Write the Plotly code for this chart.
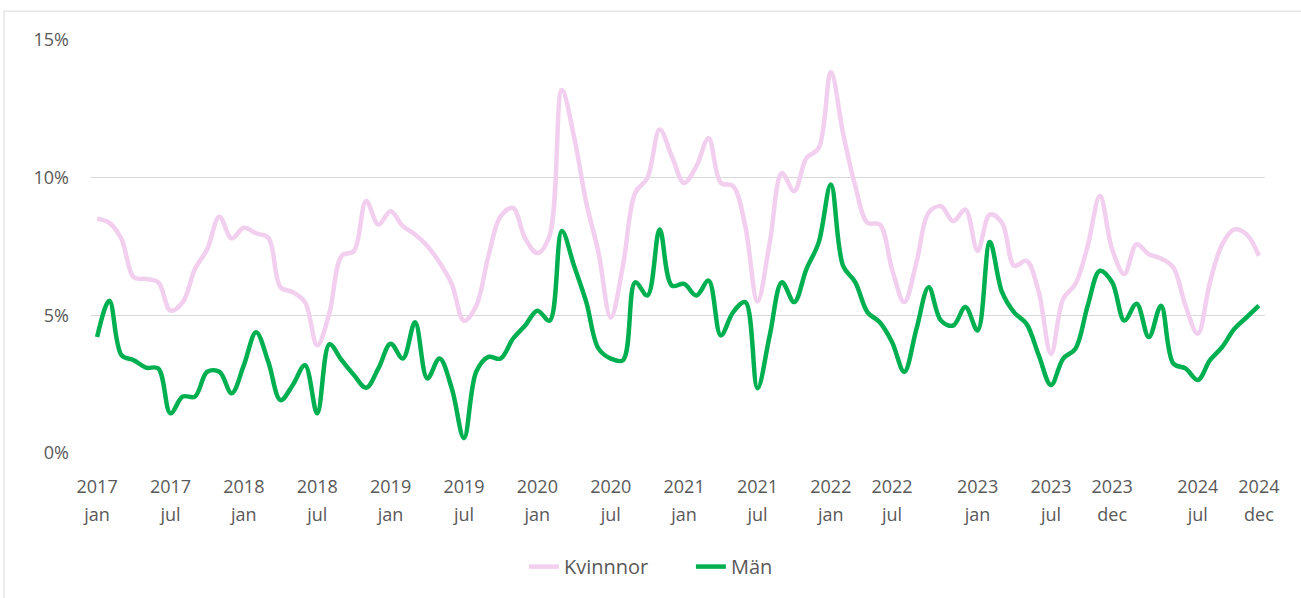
import plotly.graph_objects as go

months = list(range(96))  # 2017 jan .. 2024 dec

kvinnor = [8.51, 8.36, 7.76, 6.38, 6.32, 6.2, 5.17, 5.48, 6.68, 7.4, 8.58, 7.79,
           8.18, 7.98, 7.82, 6.02, 5.84, 5.48, 3.91, 5.1, 7.16, 7.34, 9.15, 8.3,
           8.78, 8.24, 7.94, 7.52, 6.92, 6.14, 4.8, 5.35, 7.16, 8.6, 8.9, 7.8,
           7.26, 7.9, 13.18, 11.49, 9.09, 7.28, 4.92, 6.8, 9.45, 9.99, 11.75, 10.77,
           9.81, 10.41, 11.43, 9.81, 9.69, 8.24, 5.5, 7.64, 10.17, 9.51, 10.71, 11.07,
           13.84, 11.61, 9.69, 8.36, 8.3, 6.68, 5.48, 6.92, 8.73, 8.96, 8.42, 8.84,
           7.34, 8.66, 8.36, 6.8, 6.98, 5.84, 3.6, 5.6, 6.14, 7.52, 9.33, 7.4,
           6.5, 7.58, 7.22, 7.06, 6.74, 5.35, 4.33, 6.2, 7.58, 8.12, 7.94, 7.16]

man = [4.21, 5.53, 3.55, 3.37, 3.1, 3.07, 1.44, 2.05, 2.05, 2.95, 2.95, 2.17,
       3.19, 4.39, 3.31, 1.92, 2.47, 3.19, 1.44, 3.95, 3.37, 2.83, 2.37, 3.07,
       3.97, 3.43, 4.75, 2.71, 3.43, 2.35, 0.54, 2.95, 3.49, 3.43, 4.15, 4.63,
       5.17, 4.81, 8.06, 6.8, 5.48, 3.79, 3.43, 3.37, 6.2, 5.72, 8.12, 6.08,
       6.14, 5.72, 6.26, 4.27, 5.11, 5.48, 2.35, 4.27, 6.2, 5.48, 6.68, 7.64,
       9.75, 6.8, 6.2, 5.11, 4.75, 4.03, 2.95, 4.51, 6.02, 4.81, 4.63, 5.3,
       4.45, 7.66, 5.84, 5.1, 4.69, 3.55, 2.47, 3.43, 3.79, 5.35, 6.62, 6.2,
       4.81, 5.42, 4.21, 5.35, 3.25, 3.07, 2.65, 3.37, 3.85, 4.51, 4.93, 5.35]

tick_pos = [0, 6, 12, 18, 24, 30, 36, 42, 48, 54, 60, 65, 72, 78, 83, 90, 95]
tick_years = ["2017", "2017", "2018", "2018", "2019", "2019", "2020", "2020",
              "2021", "2021", "2022", "2022", "2023", "2023", "2023", "2024", "2024"]
tick_months = ["jan", "jul", "jan", "jul", "jan", "jul", "jan", "jul",
               "jan", "jul", "jan", "jul", "jan", "jul", "dec", "jul", "dec"]

y_ticks = [0, 5, 10, 15]
y_text = ["0%", "5%", "10%", "15%"]

font = "Open Sans, Noto Sans, sans-serif"
txt_color = "#595959"

fig = go.Figure()
fig.add_trace(go.Scatter(x=months, y=kvinnor, name="Kvinnnor", mode="lines",
                         line=dict(color="#F2CEEF", width=4.5, shape="spline", smoothing=1)))
fig.add_trace(go.Scatter(x=months, y=man, name="Män", mode="lines",
                         line=dict(color="#00B050", width=4.5, shape="spline", smoothing=1)))
# invisible helper trace so the month-label axis is drawn
fig.add_trace(go.Scatter(x=[months[0]], y=[man[0]], xaxis="x2", mode="markers",
                         marker=dict(opacity=0), showlegend=False, hoverinfo="skip"))

fig.update_layout(
    width=1301, height=598,
    margin=dict(l=91, r=36, t=40, b=143),
    paper_bgcolor="white", plot_bgcolor="white",
    font=dict(family=font, size=18, color=txt_color),
    showlegend=True,
    legend=dict(orientation="h", x=0.511, xanchor="center", y=-0.275, yanchor="middle",
                font=dict(family=font, size=20, color=txt_color),
                entrywidth=122, entrywidthmode="pixels"),
    xaxis=dict(range=[-0.5, 95.5], tickmode="array", tickvals=tick_pos, ticktext=tick_years,
               showgrid=False, zeroline=False, showline=False, ticks="",
               ticklabelstandoff=21, tickfont=dict(size=18, color=txt_color)),
    xaxis2=dict(range=[-0.5, 95.5], tickmode="array", tickvals=tick_pos, ticktext=tick_months,
                overlaying="x", side="bottom", anchor="y",
                showgrid=False, zeroline=False, showline=False, ticks="",
                ticklabelstandoff=49, tickfont=dict(size=18, color=txt_color)),
    yaxis=dict(range=[0, 15], tickmode="array", tickvals=y_ticks, ticktext=y_text,
               showgrid=True, gridcolor="#D9D9D9", gridwidth=1.3, zeroline=False,
               showline=False, ticks="", ticklabelstandoff=21,
               tickfont=dict(size=18, color=txt_color)),
    shapes=[dict(type="rect", xref="paper", yref="paper", x0=-0.0741, x1=1.1,
                 y0=-0.5, y1=1.0699, line=dict(color="#D9D9D9", width=1),
                 fillcolor="rgba(0,0,0,0)", layer="below")],
)

fig.write_html("out.html", config={"displayModeBar": False},
               post_script="document.body.style.margin='0';document.body.style.overflow='hidden';")
